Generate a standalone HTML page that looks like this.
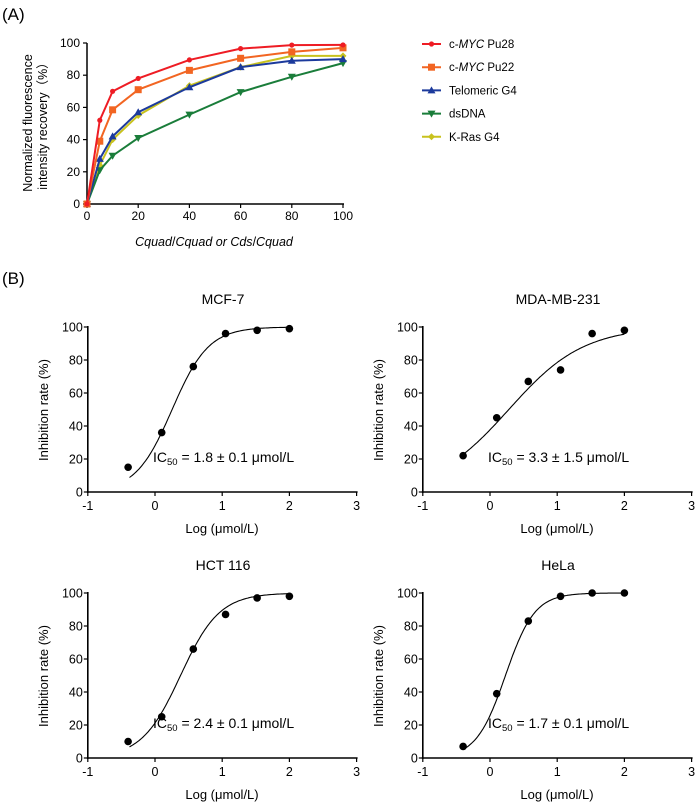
<!DOCTYPE html>
<html><head><meta charset="utf-8"><style>
body{margin:0;background:#fff}
svg{display:block;font-family:"Liberation Sans",Arial,sans-serif}
</style></head><body>
<svg id="fig" width="700" height="803" viewBox="0 0 700 803" xmlns="http://www.w3.org/2000/svg">
<text x="2" y="20" font-size="17">(A)</text>
<text x="2" y="284" font-size="17">(B)</text>
</svg>
<script>
const NS='http://www.w3.org/2000/svg';
const svg=document.getElementById('fig');
function el(tag,attrs,parent){const e=document.createElementNS(NS,tag);for(const k in attrs)e.setAttribute(k,attrs[k]);(parent||svg).appendChild(e);return e;}
function txt(x,y,s,size,anchor,parent){const t=el('text',{x:x,y:y,'font-size':size,'text-anchor':anchor||'start'},parent);t.textContent=s;return t;}

// ---------- Panel A data ----------
const aX=[0,5,10,20,40,60,80,100];
const aPu28=[0,52,70,78,89.5,96.5,98.7,98.8];
const aPu22=[0,39,58.5,71,83,90.5,94.5,97];
const aTelo=[0,28,42,57,72.5,85,89,90];
const aDs=[0,21,30,41,55.5,69.5,79,87.5];
const aKras=[0,24,40,55,73.5,85,92,92];
const aTicks=[0,20,40,60,80,100];
const aNames=['c-MYC Pu28','c-MYC Pu22','Telomeric G4','dsDNA','K-Ras G4'];

const ax=v=>87+v*2.56, ay=v=>204-v*1.61;
const gA=el('g',{});


el('line',{x1:87,y1:43,x2:87,y2:205,stroke:'#000','stroke-width':1.5},gA);
el('line',{x1:86,y1:204,x2:344,y2:204,stroke:'#000','stroke-width':1.5},gA);
aTicks.forEach(t=>{
  el('line',{x1:83,y1:ay(t),x2:87,y2:ay(t),stroke:'#000','stroke-width':1.2},gA);
  txt(80,ay(t)+4,String(t),12,'end',gA);
  el('line',{x1:ax(t),y1:204,x2:ax(t),y2:208,stroke:'#000','stroke-width':1.2},gA);
  txt(ax(t),220,String(t),12,'middle',gA);
});
const yt=el('text',{x:0,y:0,'font-size':12.5,'text-anchor':'middle',transform:'translate(32,123) rotate(-90)'},gA);

el('tspan',{x:0,dy:0},yt).textContent='Normalized fluorescence';
el('tspan',{x:0,dy:15},yt).textContent='intensity recovery（%）';
const xt=el('text',{x:214,y:246,'font-size':12.5,'text-anchor':'middle','font-style':'italic'},gA);

xt.innerHTML='Cquad<tspan font-style="normal">/</tspan>Cquad or Cds<tspan font-style="normal">/</tspan>Cquad';

function marker(g,kind,x,y,c){
  if(kind==='circle')el('circle',{cx:x,cy:y,r:2.6,fill:c},g);
  else if(kind==='square')el('rect',{x:x-3.5,y:y-3.5,width:7,height:7,fill:c},g);
  else if(kind==='up')el('polygon',{points:`${x},${y-4} ${x-4},${y+3} ${x+4},${y+3}`,fill:c},g);
  else if(kind==='down')el('polygon',{points:`${x},${y+4} ${x-4},${y-3} ${x+4},${y-3}`,fill:c},g);
  else el('polygon',{points:`${x},${y-3.5} ${x+3.5},${y} ${x},${y+3.5} ${x-3.5},${y}`,fill:c},g);
}
const series=[[aKras,'#c8c21e','diamond','k-ras-g4'],[aDs,'#1a7d3a','down','dsdna'],[aTelo,'#1c3a9c','up','telomeric-g4'],[aPu22,'#f26522','square','c-myc-pu22'],[aPu28,'#ee1c24','circle','c-myc-pu28']];
series.forEach(s=>{
  const g=el('g',{},gA);
  
  
  el('polyline',{points:aX.map((x,i)=>ax(x)+','+ay(s[0][i])).join(' '),fill:'none',stroke:s[1],'stroke-width':2},g);
  aX.forEach((x,i)=>marker(g,s[2],ax(x),ay(s[0][i]),s[1]));
});
// legend
const legC=['#ee1c24','#f26522','#1c3a9c','#1a7d3a','#c8c21e'];
const legM=['circle','square','up','down','diamond'];
aNames.forEach((n,i)=>{
  const y=44+i*23.2;
  const g=el('g',{});
  
  
  el('line',{x1:422,y1:y,x2:441,y2:y,stroke:legC[i],'stroke-width':2},g);
  marker(g,legM[i],431.5,y,legC[i]);
  const t=el('text',{x:449,y:y+4,'font-size':11.5},g);
  if(n.startsWith('c-MYC')){t.innerHTML='c-<tspan font-style="italic">MYC</tspan>'+n.slice(5);}else t.textContent=n;
});

// ---------- Panel B data ----------
const bX=[-0.4,0.1,0.57,1.05,1.52,2];
const mcf7=[15,36,76,96,98,99];
const mda=[22,45,67,74,96,98];
const hct=[10,25,66,87,97,98];
const hela=[7,39,83,98,100,100];
const bTitles=['MCF-7','MDA-MB-231','HCT 116','HeLa'];
const bIC50=['1.8 ± 0.1','3.3 ± 1.5','2.4 ± 0.1','1.7 ± 0.1'];
const bLogIC=[0.255,0.28,0.38,0.23];
const bHill=[1.6,0.78,1.5,2.0];
const bXTicks=[-1,0,1,2,3];
const bYTicks=[0,20,40,60,80,100];
const panels=[[mcf7,0,0],[mda,335,0],[hct,0,266],[hela,335,266]];

panels.forEach((p,k)=>{
  const ox=p[1],oy=p[2];
  const bx=v=>ox+155+v*67.2, by=v=>oy+492-v*1.65;
  const g=el('g',{});
  
  
  txt(ox+223,oy+304,bTitles[k],14,'middle',g);
  el('line',{x1:bx(-1),y1:by(100)-1,x2:bx(-1),y2:by(0)+1,stroke:'#000','stroke-width':1.6},g);
  el('line',{x1:bx(-1)-1,y1:by(0),x2:bx(3)+1,y2:by(0),stroke:'#000','stroke-width':1.6},g);
  bYTicks.forEach(t=>{
    el('line',{x1:bx(-1)-4,y1:by(t),x2:bx(-1),y2:by(t),stroke:'#000','stroke-width':1.2},g);
    txt(bx(-1)-5,by(t)+4.5,String(t),12.5,'end',g);
  });
  bXTicks.forEach(t=>{
    el('line',{x1:bx(t),y1:by(0),x2:bx(t),y2:by(0)+4,stroke:'#000','stroke-width':1.2},g);
    txt(bx(t),by(0)+18,String(t),12.5,'middle',g);
  });
  txt(ox+222,oy+533,'Log (μmol/L)',13,'middle',g);
  txt(0,0,'Inhibition rate (%)',13,'middle',g).setAttribute('transform',`translate(${ox+48},${oy+410}) rotate(-90)`);
  const pts=[];
  for(let x=-0.38;x<=2.001;x+=0.02){
    const v=100/(1+Math.pow(10,bHill[k]*(bLogIC[k]-x)));
    pts.push(bx(x).toFixed(1)+','+by(v).toFixed(1));
  }
  const c=el('polyline',{points:pts.join(' '),fill:'none',stroke:'#000','stroke-width':1.1},g);
  
  bX.forEach((x,i)=>{
    const d=el('circle',{cx:bx(x),cy:by(p[0][i]),r:3.8,fill:'#000'},g);
    
  });
  const t=el('text',{x:ox+153,y:oy+462,'font-size':14},g);
  t.innerHTML='IC<tspan font-size="9.5" dy="3">50</tspan><tspan dy="-3"> = '+bIC50[k]+' μmol/L</tspan>';
});
</script>
</body></html>
